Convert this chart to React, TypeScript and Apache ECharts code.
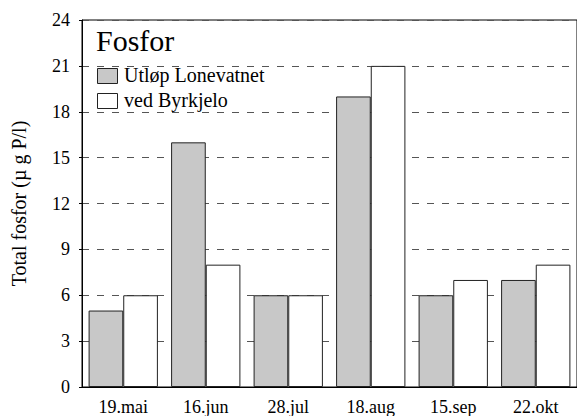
import React, { useEffect, useRef } from "react";
import * as echarts from "echarts";

const categories = ["19.mai", "16.jun", "28.jul", "18.aug", "15.sep", "22.okt"];
const utlopLonevatnet = [5, 16, 6, 19, 6, 7];
const vedByrkjelo = [6, 8, 6, 21, 7, 8];
const seriesNames = ["Utløp Lonevatnet", "ved Byrkjelo"];
const seriesColors = ["#c8c8c8", "#ffffff"];
const titleText = "Fosfor";
const yAxisName = "Total fosfor (µ g P/l)";

const FONT = "Liberation Serif";

export default function App() {
  const ref = useRef<HTMLDivElement>(null);
  useEffect(() => {
    if (!ref.current) return;
    document.body.style.margin = "0";
    const chart = echarts.init(ref.current, undefined, { renderer: "svg" });
    const legendItems: any[] = [];
    seriesNames.forEach((name, i) => {
      legendItems.push({
        type: "rect",
        left: 97,
        top: 68 + i * 25,
        shape: { width: 20, height: 15 },
        style: { fill: seriesColors[i], stroke: "#222", lineWidth: 1 },
      });
      legendItems.push({
        type: "text",
        left: 124,
        top: 65 + i * 25,
        style: { text: name, fontFamily: FONT, fontSize: 20, fill: "#000" },
      });
    });
    chart.setOption({
      animation: false,
      backgroundColor: "#ffffff",
      textStyle: { fontFamily: FONT },
      title: {
        text: titleText,
        left: 91,
        top: 20,
        textStyle: { fontFamily: FONT, fontSize: 30, fontWeight: "normal", color: "#000" },
      },
      graphic: legendItems,
      grid: {
        left: 82,
        top: 20,
        width: 497,
        height: 367,
        show: true,
        borderColor: "#000",
        borderWidth: 1,
        backgroundColor: "transparent",
      },
      xAxis: {
        type: "category",
        data: categories,
        axisLine: { show: true, lineStyle: { color: "#000", width: 1 } },
        axisTick: { show: false },
        axisLabel: { fontFamily: FONT, fontSize: 18, color: "#000", margin: 11 },
        splitLine: { show: false },
      },
      yAxis: {
        type: "value",
        min: 0,
        max: 24,
        interval: 3,
        name: yAxisName,
        nameLocation: "middle",
        nameGap: 53,
        nameTextStyle: { fontFamily: FONT, fontSize: 20, color: "#000" },
        axisLine: { show: true, lineStyle: { color: "#000", width: 1 } },
        axisTick: { show: true, length: 3, lineStyle: { color: "#000" } },
        axisLabel: { fontFamily: FONT, fontSize: 18, color: "#000", margin: 12 },
        splitLine: {
          show: true,
          lineStyle: { color: "#555", width: 1, type: [7, 8] },
        },
      },
      series: [
        {
          name: seriesNames[0],
          type: "bar",
          data: utlopLonevatnet,
          barGap: "0%",
          barCategoryGap: "16%",
          itemStyle: { color: seriesColors[0], borderColor: "#222", borderWidth: 1 },
        },
        {
          name: seriesNames[1],
          type: "bar",
          data: vedByrkjelo,
          barGap: "0%",
          barCategoryGap: "16%",
          itemStyle: { color: seriesColors[1], borderColor: "#222", borderWidth: 1 },
        },
      ],
    });
    return () => chart.dispose();
  }, []);
  return <div ref={ref} style={{ width: 577, height: 416 }} />;
}
